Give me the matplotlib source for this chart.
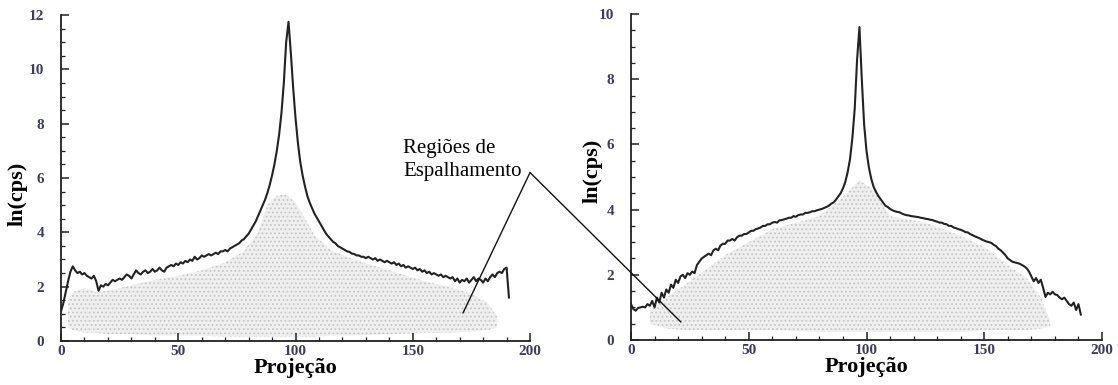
import matplotlib
matplotlib.use("Agg")
import matplotlib.pyplot as plt
from matplotlib.patches import ConnectionPatch
from matplotlib.ticker import MultipleLocator

# ---- profile data: projection index -> ln(cps) ----
proj = list(range(192))

profile_a = [
    1.1, 1.4, 1.8, 2.2, 2.55, 2.75, 2.6, 2.5, 2.55, 2.45,
    2.5, 2.4, 2.35, 2.3, 2.4, 2.2, 1.85, 2.05, 2.0, 2.1,
    2.05, 2.15, 2.25, 2.2, 2.25, 2.3, 2.25, 2.35, 2.45, 2.4,
    2.3, 2.45, 2.6, 2.5, 2.45, 2.55, 2.6, 2.5, 2.55, 2.65,
    2.55, 2.6, 2.7, 2.6, 2.55, 2.7, 2.75, 2.8, 2.75, 2.85,
    2.8, 2.9, 2.85, 2.95, 2.9, 3.0, 2.95, 3.1, 3.0, 3.05,
    3.15, 3.1, 3.15, 3.2, 3.15, 3.2, 3.25, 3.2, 3.3, 3.3,
    3.35, 3.3, 3.4, 3.45, 3.5, 3.55, 3.6, 3.7, 3.75, 3.85,
    3.95, 4.1, 4.25, 4.4, 4.6, 4.8, 5.0, 5.2, 5.45, 5.75,
    6.1, 6.5, 7.0, 7.6, 8.4, 9.5, 11.0, 11.75, 10.6, 9.3,
    8.2, 7.3, 6.6, 6.1, 5.7, 5.35, 5.1, 4.9, 4.7, 4.55,
    4.4, 4.25, 4.1, 3.95, 3.85, 3.75, 3.65, 3.6, 3.5, 3.45,
    3.4, 3.35, 3.3, 3.28, 3.22, 3.2, 3.15, 3.15, 3.1, 3.1,
    3.05, 3.1, 3.05, 3.0, 3.05, 2.95, 3.0, 2.95, 2.9, 2.95,
    2.9, 2.85, 2.9, 2.8, 2.85, 2.75, 2.8, 2.7, 2.75, 2.7,
    2.65, 2.7, 2.6, 2.65, 2.55, 2.6, 2.5, 2.55, 2.45, 2.5,
    2.45, 2.4, 2.45, 2.35, 2.4, 2.35, 2.3, 2.35, 2.2, 2.3,
    2.15, 2.25, 2.2, 2.3, 2.15, 2.25, 2.35, 2.2, 2.3, 2.25,
    2.15, 2.3, 2.2, 2.35, 2.45, 2.35, 2.5, 2.55, 2.5, 2.65,
    2.7, 1.6,
]

profile_b = [
    1.1, 0.95, 0.9, 0.98, 1.0, 1.02, 1.0, 1.1, 1.05, 1.2,
    1.0, 1.3, 1.15, 1.45, 1.3, 1.55, 1.45, 1.7, 1.6, 1.85,
    1.75, 1.95, 2.0, 1.9, 2.05, 2.0, 2.1, 2.05, 2.3, 2.4,
    2.5, 2.55, 2.6, 2.65, 2.6, 2.75, 2.8, 2.75, 2.9, 2.95,
    2.95, 3.05, 3.05, 3.1, 3.05, 3.15, 3.2, 3.2, 3.25, 3.25,
    3.3, 3.35, 3.35, 3.4, 3.42, 3.45, 3.5, 3.5, 3.55, 3.55,
    3.6, 3.62, 3.6, 3.67, 3.68, 3.7, 3.72, 3.75, 3.75, 3.8,
    3.78, 3.83, 3.85, 3.85, 3.9, 3.9, 3.92, 3.95, 3.95, 3.98,
    4.0, 4.02, 4.05, 4.08, 4.12, 4.18, 4.22, 4.3, 4.4, 4.5,
    4.65, 4.85, 5.15, 5.55, 6.2, 7.1, 8.6, 9.6, 8.0, 6.6,
    5.8, 5.3, 4.95, 4.7, 4.55, 4.42, 4.32, 4.22, 4.12, 4.08,
    4.02, 3.98, 3.95, 3.93, 3.92, 3.88, 3.85, 3.83, 3.82, 3.8,
    3.79, 3.78, 3.77, 3.75, 3.74, 3.72, 3.71, 3.69, 3.68, 3.65,
    3.63, 3.6, 3.6, 3.56, 3.55, 3.5, 3.5, 3.45, 3.43, 3.4,
    3.38, 3.35, 3.31, 3.3, 3.25, 3.22, 3.18, 3.15, 3.12, 3.08,
    3.05, 3.02, 3.0, 2.98, 2.92, 2.88, 2.8, 2.75, 2.68, 2.6,
    2.5, 2.45, 2.4, 2.38, 2.36, 2.34, 2.3, 2.26, 2.2, 2.1,
    1.95, 1.8, 1.9, 1.75, 1.85, 1.6, 1.32, 1.45, 1.4, 1.48,
    1.4, 1.38, 1.3, 1.25, 1.3, 1.2, 1.1, 1.05, 1.15, 0.92,
    1.1, 0.78,
]

# ---- outline of the stippled (scattered-event) regions ----
cloud_a_x = [3, 5, 10, 15, 20, 30, 40, 50, 60, 70, 78, 84, 88, 92, 96,
             100, 104, 108, 115, 125, 140, 155, 165, 175, 182, 186]
cloud_a_top = [1.5, 1.8, 1.95, 1.8, 1.85, 2.05, 2.25, 2.4, 2.6, 2.9, 3.3,
               4.0, 5.0, 5.35, 5.4, 5.1, 4.5, 3.9, 3.35, 3.0, 2.6, 2.2,
               2.0, 1.75, 1.4, 0.9]
cloud_a_bot = [0.5, 0.4, 0.3, 0.3, 0.25, 0.25, 0.2, 0.2, 0.2, 0.15, 0.15,
               0.15, 0.15, 0.15, 0.15, 0.15, 0.15, 0.15, 0.2, 0.2, 0.25,
               0.3, 0.3, 0.35, 0.4, 0.5]

cloud_b_x = [8, 15, 25, 40, 60, 80, 90, 97, 103, 110, 125, 140, 150, 160,
             168, 174, 178]
cloud_b_top = [0.9, 1.3, 1.8, 2.6, 3.4, 3.8, 4.4, 4.9, 4.6, 3.8, 3.6, 3.2,
               2.85, 2.3, 1.9, 1.3, 0.6]
cloud_b_bot = [0.5, 0.35, 0.3, 0.3, 0.3, 0.25, 0.25, 0.25, 0.25, 0.25,
               0.25, 0.25, 0.3, 0.3, 0.3, 0.35, 0.4]

tick_color = "#3c3c5c"
serif = ["Liberation Serif", "DejaVu Serif"]
plt.rcParams["hatch.linewidth"] = 0.8

fig = plt.figure(figsize=(11.18, 3.85), dpi=100)
ax1 = fig.add_axes([0.0546, 0.1143, 0.4195, 0.8467])
ax2 = fig.add_axes([0.5644, 0.1169, 0.4213, 0.8467])


def style(ax, ymax):
    ax.set_xlim(0, 200)
    ax.set_ylim(0, ymax)
    for s in ("top", "right"):
        ax.spines[s].set_visible(False)
    for s in ("left", "bottom"):
        ax.spines[s].set_linewidth(1.3)
        ax.spines[s].set_color("#202020")
    ax.xaxis.set_major_locator(MultipleLocator(50))
    ax.xaxis.set_minor_locator(MultipleLocator(10))
    ax.yaxis.set_major_locator(MultipleLocator(2))
    ax.yaxis.set_minor_locator(MultipleLocator(0.5))
    ax.tick_params(which="both", direction="in", color="#202020")
    ax.tick_params(which="major", length=6, width=1.1)
    ax.tick_params(which="minor", length=3, width=0.9)
    ax.tick_params(axis="y", which="major", pad=12)
    ax.tick_params(axis="x", which="major", pad=3)
    for lab in ax.get_xticklabels() + ax.get_yticklabels():
        lab.set_fontfamily(serif)
        lab.set_fontweight("bold")
        lab.set_fontsize(11)
        lab.set_color(tick_color)
    ax.set_xlabel("Projeção", fontfamily=serif, fontweight="bold",
                  fontsize=16, labelpad=0)


def draw(ax, cx, ctop, cbot, prof):
    ax.fill_between(cx, cbot, ctop, facecolor="#efefef", edgecolor="#c6c6c6",
                    hatch="....", linewidth=0, zorder=1)
    ax.plot(proj, prof, color="#222222", lw=1.5, zorder=3)


draw(ax1, cloud_a_x, cloud_a_top, cloud_a_bot, profile_a)
draw(ax2, cloud_b_x, cloud_b_top, cloud_b_bot, profile_b)
style(ax1, 12)
style(ax2, 10)

ax1.set_ylabel("ln(cps)", fontfamily=serif, fontweight="bold", fontsize=16)
ax2.set_ylabel("ln(cps)", fontfamily=serif, fontweight="bold", fontsize=16)
ax1.yaxis.set_label_coords(-0.071, 0.45)
ax2.yaxis.set_label_coords(-0.06, 0.52)

# label for the scattering regions with leader lines into both panels
ax1.text(145.8, 6.66, "Regiões de\nEspalhamento", fontfamily=serif,
         fontsize=15, ha="left", va="center", linespacing=1.3)
anchor = (200, 6.2)
fig.add_artist(ConnectionPatch(xyA=anchor, coordsA=ax1.transData,
                               xyB=(171.4, 1.03), coordsB=ax1.transData,
                               color="#111111", lw=1.0))
fig.add_artist(ConnectionPatch(xyA=anchor, coordsA=ax1.transData,
                               xyB=(21.2, 0.55), coordsB=ax2.transData,
                               color="#111111", lw=1.0))

fig.savefig("out.png", dpi=100, facecolor="white")
